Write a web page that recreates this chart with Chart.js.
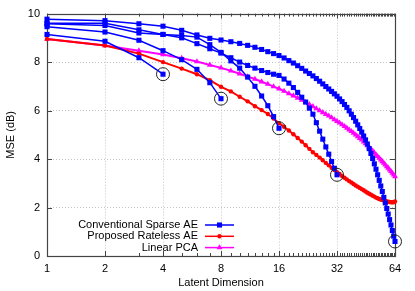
<!DOCTYPE html>
<html>
<head>
<meta charset="utf-8">
<script src="https://cdn.jsdelivr.net/npm/chart.js@4/dist/chart.umd.min.js"></script>
<style>
  html, body { margin: 0; padding: 0; background: #fff; }
  #wrap { width: 415px; height: 291px; position: relative; }
</style>
</head>
<body>
<div id="wrap"><canvas id="mseChart" width="415" height="291"></canvas></div>
<script>
// latent dimensions on the x axis
const latentDims = [1, 2, 3, 4, 5, 6, 7, 8, 9, 10, 11, 12, 13, 14, 15, 16,
    17, 18, 19, 20, 21, 22, 23, 24, 25, 26, 27, 28, 29, 30, 31, 32,
    33, 34, 35, 36, 37, 38, 39, 40, 41, 42, 43, 44, 45, 46, 47, 48,
    49, 50, 51, 52, 53, 54, 55, 56, 57, 58, 59, 60, 61, 62, 63, 64];
const xTicks = [1, 2, 4, 8, 16, 32, 64];
const yTicks = [0, 2, 4, 6, 8, 10];
const seriesNames = ['Conventional Sparse AE', 'Proposed Rateless AE', 'Linear PCA'];

// conventional sparse AE, one curve per trained dimension (MSE dB)
const sparseAE4 = [9.14, 8.86, 8.18, 7.50];
const sparseAE8 = [9.46, 9.24, 8.90, 8.47, 8.10, 7.70, 7.15, 6.49];
const sparseAE16 = [9.58, 9.51, 9.20, 9.14, 9.10, 9.03, 8.72, 8.40, 8.05, 7.75, 7.38, 7.00, 6.60, 6.20, 5.75, 5.27];
const sparseAE32 = [9.60, 9.60, 9.33, 9.14, 9.00, 8.76, 8.55, 8.37, 8.18, 8.00,
    7.86, 7.75, 7.65, 7.57, 7.50, 7.45, 7.30, 7.13, 6.95, 6.75,
    6.55, 6.35, 6.10, 5.85, 5.50, 5.15, 4.82, 4.50, 4.20, 3.90, 3.62, 3.35];
const sparseAE64 = [9.77, 9.71, 9.58, 9.48, 9.31, 9.12, 8.98, 8.91, 8.84, 8.77,
    8.69, 8.61, 8.52, 8.43, 8.35, 8.27, 8.17, 8.06, 7.96, 7.85,
    7.74, 7.63, 7.53, 7.43, 7.32, 7.21, 7.10, 6.99, 6.89, 6.79,
    6.69, 6.59, 6.48, 6.37, 6.25, 6.13, 5.99, 5.85, 5.71, 5.56,
    5.41, 5.26, 5.11, 4.95, 4.79, 4.62, 4.43, 4.23, 4.02, 3.80,
    3.58, 3.35, 3.12, 2.89, 2.66, 2.42, 2.19, 1.96, 1.73, 1.50,
    1.28, 1.05, 0.82, 0.60];

const ratelessAE = [8.95, 8.68, 8.35, 8.00, 7.73, 7.50, 7.25, 6.98, 6.79, 6.57,
    6.38, 6.18, 6.02, 5.86, 5.67, 5.48, 5.33, 5.18, 5.02, 4.87,
    4.72, 4.57, 4.42, 4.28, 4.17, 4.06, 3.95, 3.84, 3.74, 3.64,
    3.55, 3.46, 3.38, 3.30, 3.23, 3.16, 3.09, 3.03, 2.97, 2.91,
    2.86, 2.81, 2.76, 2.71, 2.66, 2.61, 2.57, 2.53, 2.49, 2.45,
    2.41, 2.38, 2.35, 2.33, 2.31, 2.29, 2.27, 2.25, 2.24, 2.23,
    2.22, 2.22, 2.22, 2.25];

const linearPCA = [8.95, 8.68, 8.47, 8.31, 8.16, 8.02, 7.88, 7.76, 7.64, 7.52,
    7.40, 7.30, 7.19, 7.09, 6.99, 6.90, 6.80, 6.70, 6.61, 6.52,
    6.43, 6.34, 6.25, 6.17, 6.08, 6.00, 5.92, 5.85, 5.78, 5.71,
    5.63, 5.56, 5.49, 5.42, 5.35, 5.28, 5.21, 5.14, 5.07, 5.00,
    4.93, 4.86, 4.79, 4.71, 4.64, 4.56, 4.49, 4.41, 4.34, 4.26,
    4.18, 4.11, 4.04, 3.97, 3.90, 3.83, 3.76, 3.69, 3.63, 3.56,
    3.49, 3.42, 3.35, 3.28];

const BLUE = '#0000ff';
const RED = '#ff0000';
const MAGENTA = '#ff00ff';
const FONT = 'Liberation Sans, Arial, sans-serif';

function toPoints(values) {
    return values.map((v, i) => ({ x: latentDims[i], y: v }));
}

function lineSet(label, values, color, style, radius, width, legend) {
    return {
        label: label,
        data: toPoints(values),
        borderColor: color,
        backgroundColor: color,
        borderWidth: width,
        pointStyle: style,
        pointRadius: radius,
        pointBorderWidth: 0,
        tension: 0,
        clip: false,
        inLegend: legend
    };
}

// black rings at the end of each sparse AE curve
const sparseCurves = [sparseAE4, sparseAE8, sparseAE16, sparseAE32, sparseAE64];
const endRings = sparseCurves.map(c => ({ x: latentDims[c.length - 1], y: c[c.length - 1] }));

const datasets = [
    {
        label: 'ends',
        data: endRings,
        showLine: false,
        pointStyle: 'circle',
        pointRadius: 6.5,
        pointBorderColor: '#222',
        pointBackgroundColor: 'rgba(0,0,0,0)',
        pointBorderWidth: 1,
        clip: false
    },
    lineSet(seriesNames[0], sparseAE4, BLUE, 'rect', 3.6, 1.5, false),
    lineSet(seriesNames[0], sparseAE8, BLUE, 'rect', 3.6, 1.5, false),
    lineSet(seriesNames[0], sparseAE16, BLUE, 'rect', 3.6, 1.5, false),
    lineSet(seriesNames[0], sparseAE32, BLUE, 'rect', 3.6, 1.5, false),
    lineSet(seriesNames[0], sparseAE64, BLUE, 'rect', 3.6, 1.5, true),
    lineSet(seriesNames[1], ratelessAE, RED, 'circle', 2.2, 2, true),
    lineSet(seriesNames[2], linearPCA, MAGENTA, 'triangle', 3.4, 2, true)
];

function drawMarker(ctx, style, x, y, r) {
    ctx.beginPath();
    if (style === 'rect') {
        const s = Math.SQRT1_2 * r;
        ctx.rect(x - s, y - s, 2 * s, 2 * s);
    } else if (style === 'triangle') {
        ctx.moveTo(x, y - r);
        ctx.lineTo(x + r * 0.866, y + r * 0.5);
        ctx.lineTo(x - r * 0.866, y + r * 0.5);
        ctx.closePath();
    } else {
        ctx.arc(x, y, r, 0, Math.PI * 2);
    }
    ctx.fill();
}

// gnuplot-like frame with inward major/minor ticks, plus the legend
const framePlugin = {
    id: 'frame',
    beforeDatasetsDraw(chart) {
        const { ctx, chartArea: a, scales: { x, y } } = chart;
        ctx.save();
        ctx.strokeStyle = '#444';
        ctx.lineWidth = 1;
        ctx.beginPath();
        latentDims.forEach(d => {
            const px = Math.round(x.getPixelForValue(d)) + 0.5;
            const len = xTicks.includes(d) ? 5 : 3;
            ctx.moveTo(px, a.bottom); ctx.lineTo(px, a.bottom - len);
            ctx.moveTo(px, a.top); ctx.lineTo(px, a.top + len);
        });
        yTicks.forEach(v => {
            const py = Math.round(y.getPixelForValue(v)) + 0.5;
            ctx.moveTo(a.left, py); ctx.lineTo(a.left + 5, py);
            ctx.moveTo(a.right, py); ctx.lineTo(a.right - 5, py);
        });
        ctx.stroke();
        ctx.lineWidth = 1.2;
        ctx.strokeRect(Math.round(a.left) + 0.5, Math.round(a.top) + 0.5,
            Math.round(a.right - a.left), Math.round(a.bottom - a.top));
        ctx.restore();
    },
    afterDatasetsDraw(chart) {
        const { ctx } = chart;
        const items = chart.data.datasets.filter(ds => ds.inLegend);
        ctx.save();
        ctx.font = '11px ' + FONT;
        ctx.textAlign = 'right';
        ctx.textBaseline = 'middle';
        items.forEach((ds, i) => {
            const ly = 225 + i * 11.3;
            ctx.fillStyle = '#000';
            ctx.fillText(ds.label, 198, ly);
            ctx.strokeStyle = ds.borderColor;
            ctx.lineWidth = 1.5;
            ctx.beginPath();
            ctx.moveTo(205, ly);
            ctx.lineTo(234, ly);
            ctx.stroke();
            ctx.fillStyle = ds.borderColor;
            drawMarker(ctx, ds.pointStyle, 219.5, ly, ds.pointRadius);
        });
        ctx.restore();
    }
};

const ctx = document.getElementById('mseChart');
new Chart(ctx, {
    type: 'line',
    data: { datasets: datasets },
    plugins: [framePlugin],
    options: {
        responsive: false,
        animation: false,
        events: [],
        layout: { padding: { left: 0, right: 20, top: 11, bottom: 0 } },
        plugins: { legend: { display: false }, tooltip: { enabled: false } },
        scales: {
            x: {
                type: 'logarithmic',
                min: 1,
                max: 64,
                afterBuildTicks: s => { s.ticks = xTicks.map(v => ({ value: v })); },
                afterFit: s => { s.height = 35; },
                grid: {
                    drawTicks: false,
                    color: c => (c.tick && (c.tick.value === 1 || c.tick.value === 64)) ? 'rgba(0,0,0,0)' : '#c4c4c4',
                    lineWidth: 1
                },
                border: { display: false, dash: [1, 2] },
                ticks: {
                    color: '#000',
                    font: { family: FONT, size: 11 },
                    padding: 6,
                    maxRotation: 0,
                    autoSkip: false,
                    callback: v => String(v)
                },
                title: {
                    display: true,
                    text: 'Latent Dimension',
                    color: '#000',
                    font: { family: FONT, size: 11 },
                    padding: { top: 0, bottom: 1 }
                }
            },
            y: {
                min: 0,
                max: 10,
                afterBuildTicks: s => { s.ticks = yTicks.map(v => ({ value: v })); },
                afterFit: s => { s.width = 47; },
                grid: {
                    drawTicks: false,
                    color: c => (c.tick && (c.tick.value === 0 || c.tick.value === 10)) ? 'rgba(0,0,0,0)' : '#c4c4c4',
                    lineWidth: 1
                },
                border: { display: false, dash: [1, 2] },
                ticks: {
                    color: '#000',
                    font: { family: FONT, size: 11 },
                    padding: 7
                },
                title: {
                    display: true,
                    text: 'MSE (dB)',
                    color: '#000',
                    font: { family: FONT, size: 11 },
                    padding: { top: 4, bottom: 0 }
                }
            }
        }
    }
});
</script>
</body>
</html>
